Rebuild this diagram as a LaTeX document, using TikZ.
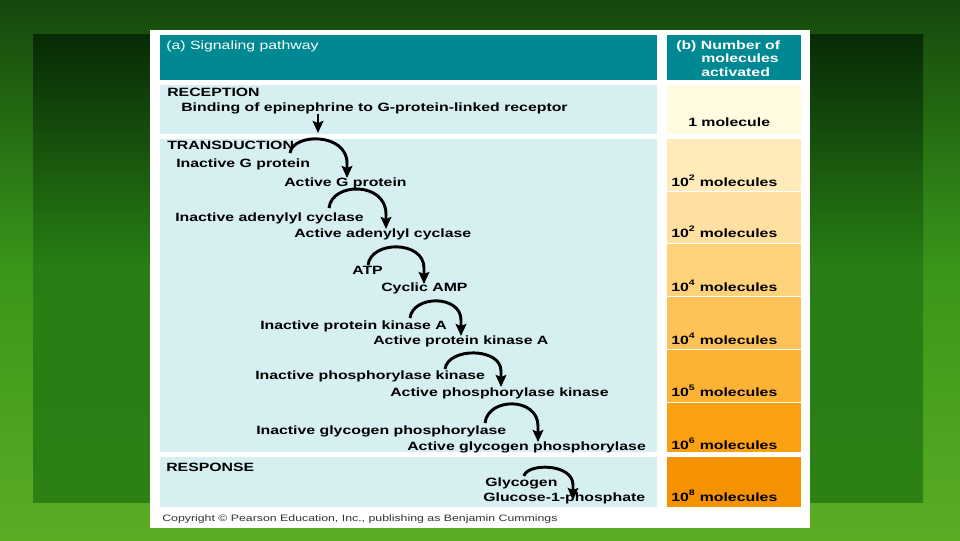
\documentclass[tikz,border=0pt]{standalone}
\usepackage{fontspec}
\setmainfont{Liberation Sans}[FakeStretch=1.32]
\usetikzlibrary{arrows.meta}
\definecolor{tealhead}{RGB}{0,137,147}
\definecolor{paleblue}{RGB}{214,239,241}
\definecolor{cz}{RGB}{255,251,224}
\definecolor{ca}{RGB}{255,234,185}
\definecolor{cb}{RGB}{255,224,160}
\definecolor{cc}{RGB}{254,210,122}
\definecolor{cd}{RGB}{253,195,88}
\definecolor{ce}{RGB}{252,178,50}
\definecolor{cf}{RGB}{251,160,16}
\definecolor{cg}{RGB}{245,146,0}
\definecolor{bgtop}{RGB}{20,72,12}
\definecolor{bgmid}{RGB}{58,150,26}
\definecolor{bgbot}{RGB}{92,172,36}
\definecolor{intop}{RGB}{8,42,6}
\definecolor{inmid}{RGB}{40,126,20}
\definecolor{inbot}{RGB}{44,128,20}
\begin{document}
\begin{tikzpicture}[x=0.75pt,y=-0.75pt,
  txt/.style={anchor=base west, inner sep=0pt, font=\fontsize{9}{10}\selectfont\bfseries, text=black},
  headtxt/.style={anchor=base west, inner sep=0pt, font=\fontsize{9}{10}\selectfont, text=white},
  headbold/.style={headtxt, font=\fontsize{9}{10}\selectfont\bfseries},
  flow/.style={line width=2.2pt, -{Stealth[length=9pt,width=8pt,inset=1.5pt]}}]
\useasboundingbox (0,0) rectangle (960,540);
% background
\shade[top color=bgtop, bottom color=bgbot, middle color=bgmid] (0,0) rectangle (960,540);
\shade[top color=intop, bottom color=inbot, middle color=inmid] (33,34) rectangle (923,502);
% white panel
\fill[white] (150,30) rectangle (810,528);
% left panels
\fill[tealhead] (160,35) rectangle (657,80);
\fill[paleblue] (160,85) rectangle (657,134);
\fill[paleblue] (160,139) rectangle (657,452);
\fill[paleblue] (160,457) rectangle (657,507);
% right column
\fill[tealhead] (667,35) rectangle (801,80);
\fill[cz] (667,85) rectangle (801,134);
\fill[ca] (667,139) rectangle (801,190.5);
\fill[cb] (667,191.5) rectangle (801,243);
\fill[cc] (667,244) rectangle (801,296);
\fill[cd] (667,297) rectangle (801,349);
\fill[ce] (667,350) rectangle (801,401.5);
\fill[cf] (667,402.5) rectangle (801,452);
\fill[cg] (667,457) rectangle (801,507);
% headers
\node[headtxt] (ha) at (166,49) {(a) Signaling pathway};
\node[headbold] (hb1) at (676,49) {(b) Number of};
\node[headbold] (hb2) at (701,62.5) {molecules};
\node[headbold] (hb3) at (701,76) {activated};
% reception
\node[txt] (rec) at (167,96) {RECEPTION};
\node[txt] (bind) at (181,111) {Binding of epinephrine to G-protein-linked receptor};
\node[txt] (n0) at (688,126) {1 molecule};
\coordinate (r0s) at (318,114);
\coordinate (r0t) at (318,133);
\draw[flow] (r0s) -- (r0t);
% transduction
\node[txt] (trans) at (167,149) {TRANSDUCTION};
\node[txt] (igp) at (176,167) {Inactive G protein};
\node[txt] (agp) at (284,186) {Active G protein};
\node[txt] (iac) at (175,221) {Inactive adenylyl cyclase};
\node[txt] (aac) at (294,237) {Active adenylyl cyclase};
\node[txt] (atp) at (352,274) {ATP};
\node[txt] (camp) at (381,291) {Cyclic AMP};
\node[txt] (ipk) at (260,329) {Inactive protein kinase A};
\node[txt] (apk) at (373,344) {Active protein kinase A};
\node[txt] (iphk) at (255,379) {Inactive phosphorylase kinase};
\node[txt] (aphk) at (390,396) {Active phosphorylase kinase};
\node[txt] (igph) at (256,434) {Inactive glycogen phosphorylase};
\node[txt] (agph) at (407,450) {Active glycogen phosphorylase};
% response
\node[txt] (resp) at (166,471) {RESPONSE};
\node[txt] (glyc) at (485,486) {Glycogen};
\node[txt] (g1p) at (483,501) {Glucose-1-phosphate};
% numbers
\node[txt] (n1) at (671,186) {10\textsuperscript{2} molecules};
\node[txt] (n2) at (671,237) {10\textsuperscript{2} molecules};
\node[txt] (n3) at (671,291) {10\textsuperscript{4} molecules};
\node[txt] (n4) at (671,344) {10\textsuperscript{4} molecules};
\node[txt] (n5) at (671,396) {10\textsuperscript{5} molecules};
\node[txt] (n6) at (671,449) {10\textsuperscript{6} molecules};
\node[txt] (n7) at (671,501) {10\textsuperscript{8} molecules};
% arcs
\coordinate (a1s) at (290,153); \coordinate (a1t) at (347,178);
\draw[flow] (a1s) .. controls (293,132.7) and (347,132.7) .. (347,163) -- (a1t);
\coordinate (a2s) at (329,208); \coordinate (a2t) at (386,229);
\draw[flow] (a2s) .. controls (332,181.7) and (386,181.7) .. (386,214) -- (a2t);
\coordinate (a3s) at (368,265); \coordinate (a3t) at (424,284);
\draw[flow] (a3s) .. controls (371,240.3) and (424,240.3) .. (424,268) -- (a3t);
\coordinate (a4s) at (410,318); \coordinate (a4t) at (461,336);
\draw[flow] (a4s) .. controls (413,294.8) and (461,294.8) .. (461,320) -- (a4t);
\coordinate (a5s) at (445,369); \coordinate (a5t) at (501,387);
\draw[flow] (a5s) .. controls (448,347.2) and (501,347.2) .. (501,371) -- (a5t);
\coordinate (a6s) at (485,423); \coordinate (a6t) at (538,442);
\draw[flow] (a6s) .. controls (488,397) and (538,397) .. (538,426) -- (a6t);
\coordinate (a7s) at (524,476); \coordinate (a7t) at (573,500);
\draw[flow] (a7s) .. controls (527,463) and (573,463) .. (573,485) -- (a7t);
% copyright
\node[anchor=base west, inner sep=0pt, font=\fontsize{7}{8}\selectfont, text=black!80] (copy) at (162,521) {Copyright © Pearson Education, Inc., publishing as Benjamin Cummings};
\end{tikzpicture}
\end{document}
